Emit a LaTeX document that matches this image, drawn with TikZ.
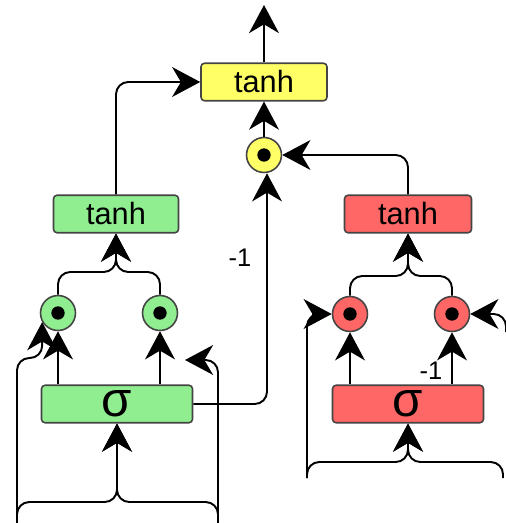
\documentclass[tikz,border=0pt]{standalone}
\usepackage{fontspec}
\setmainfont{Liberation Sans}
\definecolor{gatepos}{HTML}{90EE90}
\definecolor{gateneg}{HTML}{FF6666}
\definecolor{gateout}{HTML}{FFFF66}
\definecolor{rim}{HTML}{444444}
\usetikzlibrary{arrows.meta,calc}

\begin{document}
\begin{tikzpicture}[x=0.02cm, y=-0.02cm,
		head/.tip={Stealth[length=16pt, width=17pt, inset=5pt]},
		wire/.style={line width=1.1pt, -head},
		bent/.style={wire, rounded corners=7pt},
		layer/.style={draw=rim, line width=0.9pt, rounded corners=2pt, minimum height=0.75cm,
			inner sep=0pt, font=\fontsize{17.5}{19}\selectfont},
		squash/.style={layer, minimum width=3.02cm, font=\fontsize{28}{30}\selectfont},
		mul/.style={circle, draw=rim, line width=0.9pt, minimum size=0.7cm, inner sep=0pt,
			path picture={\fill[black] (path picture bounding box.center) circle (3.8pt);}},
		wt/.style={font=\fontsize{14.5}{16}\selectfont}]

		% pixel-sized grid, y running downwards
		\useasboundingbox (0,0) rectangle (505,523);

		% ---------- output stage
		\node[layer, fill=gateout, minimum width=2.52cm] (yTanh) at (264,82) {tanh};
		\node[mul, fill=gateout] (yMul) at (264,155) {};
		\coordinate (out) at (264,5);

		% ---------- left (green) cell
		\node[layer, fill=gatepos, minimum width=2.5cm] (gTanh) at (116,214) {tanh};
		\node[mul, fill=gatepos] (gMulA) at (58,313) {};
		\node[mul, fill=gatepos] (gMulB) at (160,313) {};
		\node[squash, fill=gatepos] (gSig) at (117,404) {σ};
		\node[wt] (gNeg) at (240,258) {-1};

		\coordinate (gJoin) at (116,272);
		\coordinate (gBrace) at (117,502);
		\coordinate (gInL) at (17,523);
		\coordinate (gInR) at (218,523);
		\coordinate (gSpare) at (185,360);

		% ---------- right (red) cell
		\node[layer, fill=gateneg, minimum width=2.54cm] (rTanh) at (408,214) {tanh};
		\node[mul, fill=gateneg] (rMulA) at (350,314) {};
		\node[mul, fill=gateneg] (rMulB) at (452,314) {};
		\node[squash, fill=gateneg] (rSig) at (408,404) {σ};
		\node[wt] (rNeg) at (431,371) {-1};

		\coordinate (rJoin) at (408,276);
		\coordinate (rBrace) at (408,462);
		\coordinate (rInL) at (307,478);
		\coordinate (rInR) at (503,478);
		\coordinate (rInE) at (506,332);

		% ---------- wiring into the output
		\draw[wire] (yTanh.north) -- (out);
		\draw[wire] (yMul) -- (yTanh);
		\draw[bent] (gTanh.north) |- (yTanh.west);
		\draw[bent] (rTanh.north) |- (yMul.east);
		\draw[bent] (gSig.east) -| ([xshift=0.06cm]yMul.south);

		% ---------- green cell wiring
		\draw[bent] (gMulA) |- (gJoin) -- (gTanh);
		\draw[bent] (gMulB) |- (gJoin) -- (gTanh);
		\draw[wire] (gSig.north -| gMulA) -- (gMulA);
		\draw[wire] (gSig.north -| gMulB) -- (gMulB);
		\draw[bent] (gInL) |- (gBrace) -- (gSig);
		\draw[bent] (gInR) |- (gBrace) -- (gSig);
		\draw[bent] (gInL) -- (17,358) -| (gMulA.-150);
		\draw[bent] (gInR) |- (gSpare);

		% ---------- red cell wiring
		\draw[bent] (rMulA) |- (rJoin) -- (rTanh);
		\draw[bent] (rMulB) |- (rJoin) -- (rTanh);
		\draw[wire] (rSig.north -| rMulA) -- (rMulA);
		\draw[wire] (rSig.north -| rMulB) -- (rMulB);
		\draw[bent] (rInL) |- (rBrace) -- (rSig);
		\draw[bent] (rInR) |- (rBrace) -- (rSig);
		\draw[bent] (rInL) |- (rMulA);
		\draw[bent] (rInE) |- (rMulB);
	\end{tikzpicture}
\end{document}
